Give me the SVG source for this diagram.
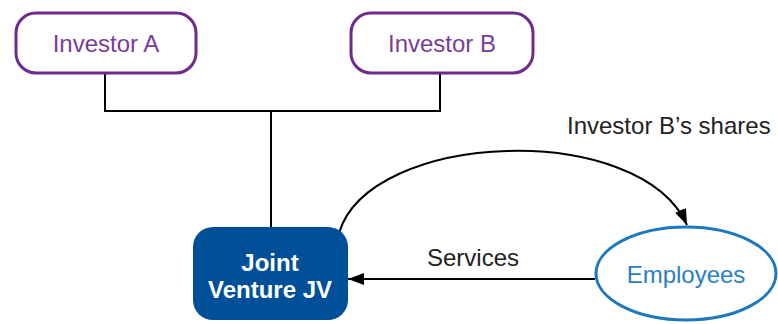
<svg xmlns="http://www.w3.org/2000/svg" width="778" height="324" viewBox="0 0 778 324">
  <defs>
    <marker id="arrow" viewBox="0 0 16 12" refX="16" refY="6" markerWidth="16" markerHeight="12" markerUnits="userSpaceOnUse" orient="auto">
      <path d="M0,0 L16,6 L0,12 Z" fill="#000"/>
    </marker>
    <style>
      .investor rect { fill: #fff; stroke: #6e2b8c; stroke-width: 3; }
      .investor text { fill: #7a3c98; font-family: "Liberation Sans", Arial, sans-serif; font-size: 24px; text-anchor: middle; }
      .jv rect { fill: #004f99; }
      .jv text { fill: #fff; font-family: "Liberation Sans", Arial, sans-serif; font-size: 24px; font-weight: bold; text-anchor: middle; }
      .emp ellipse { fill: #fff; stroke: #1f78be; stroke-width: 3; }
      .emp text { fill: #2b80c3; font-family: "Liberation Sans", Arial, sans-serif; font-size: 24px; text-anchor: middle; }
      .conn { fill: none; stroke: #000; stroke-width: 2; }
      .label { fill: #222; font-family: "Liberation Sans", Arial, sans-serif; font-size: 24px; }
    </style>
  </defs>

  <!-- ownership lines and flows -->
  <g id="connectors">
    <polyline class="conn" points="105,73 105,111 440,111 440,73"/>
    <line class="conn" x1="271" y1="111" x2="271" y2="227"/>
    <path class="conn" d="M339,233 C370,130 640,120 687,225" marker-end="url(#arrow)"/>
    <line class="conn" x1="595" y1="279" x2="348" y2="279" marker-end="url(#arrow)"/>
    <text class="label" x="567" y="134">Investor B’s shares</text>
    <text class="label" x="427" y="266">Services</text>
  </g>

  <g id="investor-a" class="investor">
    <rect x="16" y="13" width="180" height="60" rx="20"/>
    <text x="106" y="52">Investor A</text>
  </g>

  <g id="investor-b" class="investor">
    <rect x="351" y="13" width="182" height="60" rx="20"/>
    <text x="442" y="52">Investor B</text>
  </g>

  <g id="joint-venture" class="jv">
    <rect x="193" y="227" width="155" height="93" rx="20"/>
    <text x="270" y="271">Joint</text>
    <text x="270" y="298">Venture JV</text>
  </g>

  <g id="employees" class="emp">
    <ellipse cx="686" cy="273.5" rx="90" ry="46.5"/>
    <text x="686" y="283">Employees</text>
  </g>
</svg>
